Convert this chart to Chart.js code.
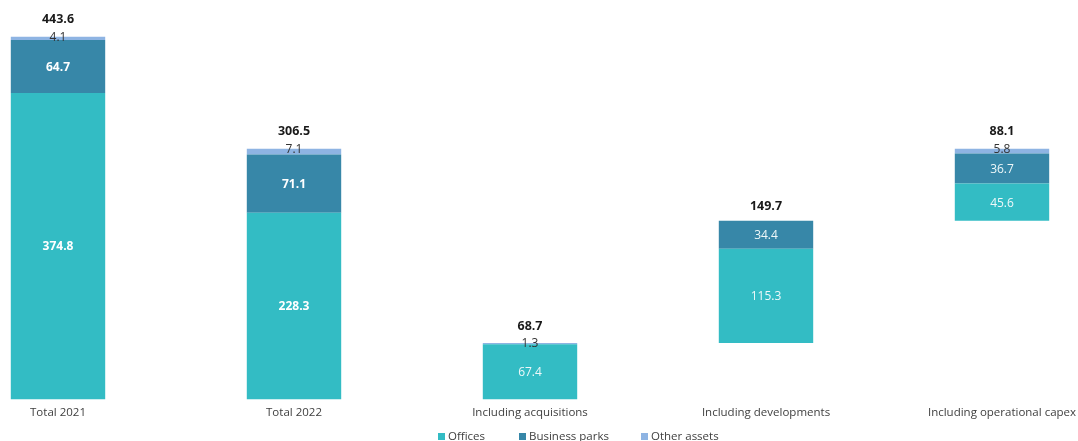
<!DOCTYPE html>
<html>
<head>
<meta charset="utf-8">
<script src="https://cdn.jsdelivr.net/npm/chart.js@4"></script>
<style>
  html, body { margin: 0; padding: 0; background: #ffffff; }
  #wrap { position: relative; width: 1078px; height: 441px; }
  #legend { position: absolute; left: 438px; top: 428px; height: 16px;
            font-family: "Open Sans", sans-serif; font-size: 11.5px; color: #404040; line-height: 16px; }
  #legend .item { position: absolute; top: 0; display: flex; align-items: center; white-space: nowrap; }
  #legend .box { width: 7px; height: 7px; margin-right: 3px; }
</style>
</head>
<body>
<div id="wrap">
  <canvas id="c" width="1078" height="441"></canvas>
  <div id="legend"></div>
</div>
<script>
const categories = ['Total 2021', 'Total 2022', 'Including acquisitions', 'Including developments', 'Including operational capex'];
const baseOffsets = [0, 0, 0, 68.7, 218.4];
const offices = [374.8, 228.3, 67.4, 115.3, 45.6];
const businessParks = [64.7, 71.1, 0, 34.4, 36.7];
const otherAssets = [4.1, 7.1, 1.3, 0, 5.8];
const totals = [443.6, 306.5, 68.7, 149.7, 88.1];
const seriesNames = ['Offices', 'Business parks', 'Other assets'];
const seriesColors = ['#33bcc4', '#3787a8', '#8eb4e3'];
const boldCategories = [true, true, false, false, false];

const FONT = '"Open Sans", sans-serif';

const labelPlugin = {
  id: 'labels',
  afterDatasetsDraw(chart) {
    const ctx = chart.ctx;
    ctx.save();
    ctx.textAlign = 'center';
    ctx.textBaseline = 'middle';
    const mOff = chart.getDatasetMeta(1).data;
    const mBp = chart.getDatasetMeta(2).data;
    const mOth = chart.getDatasetMeta(3).data;
    categories.forEach((c, i) => {
      [[mOff, offices], [mBp, businessParks]].forEach(([meta, arr]) => {
        if (!arr[i]) return;
        const el = meta[i];
        ctx.fillStyle = boldCategories[i] ? '#ffffff' : '#eef8f9';
        ctx.font = (boldCategories[i] ? 'bold ' : '') + '12px ' + FONT;
        ctx.fillText(arr[i].toFixed(1), el.x, (el.y + el.base) / 2 + 1);
      });
      const top = mOth[i].y;
      if (otherAssets[i]) {
        ctx.fillStyle = '#333333';
        ctx.font = '12px ' + FONT;
        ctx.fillText(otherAssets[i].toFixed(1), mOth[i].x, top + 1);
      }
      ctx.fillStyle = '#1a1a1a';
      ctx.font = 'bold 12.5px ' + FONT;
      const dy = otherAssets[i] ? 17 : 14;
      ctx.fillText(totals[i].toFixed(1), mOth[i].x, top - dy);
    });
    ctx.restore();
  }
};

const mk = (label, data, color) => ({
  label, data, backgroundColor: color, borderWidth: 0, stack: 's',
  barPercentage: 0.4, categoryPercentage: 1.0, clip: false
});

new Chart(document.getElementById('c'), {
  type: 'bar',
  data: {
    labels: categories,
    datasets: [
      mk('base', baseOffsets, 'rgba(0,0,0,0)'),
      mk(seriesNames[0], offices, seriesColors[0]),
      mk(seriesNames[1], businessParks, seriesColors[1]),
      mk(seriesNames[2], otherAssets, seriesColors[2])
    ]
  },
  options: {
    responsive: false,
    animation: false,
    layout: { padding: { left: 58, right: 76, top: 31.5, bottom: 14 } },
    plugins: { legend: { display: false }, tooltip: { enabled: false } },
    scales: {
      x: {
        stacked: true,
        offset: false,
        grid: { display: false, drawTicks: false },
        border: { display: false },
        ticks: { color: '#404040', font: { family: FONT, size: 11.5 }, padding: 7, autoSkip: false, maxRotation: 0 },
        afterFit(scale) { scale.paddingLeft = 0; scale.paddingRight = 0; }
      },
      y: {
        stacked: true,
        display: false,
        min: 0,
        max: 450
      }
    }
  },
  plugins: [labelPlugin]
});

const legendLefts = [0, 81, 203];
const lg = document.getElementById('legend');
seriesNames.forEach((n, k) => {
  const it = document.createElement('div');
  it.className = 'item';
  it.style.left = legendLefts[k] + 'px';
  const b = document.createElement('span');
  b.className = 'box';
  b.style.background = seriesColors[k];
  const t = document.createElement('span');
  t.textContent = n;
  it.appendChild(b); it.appendChild(t);
  lg.appendChild(it);
});
</script>
</body>
</html>
